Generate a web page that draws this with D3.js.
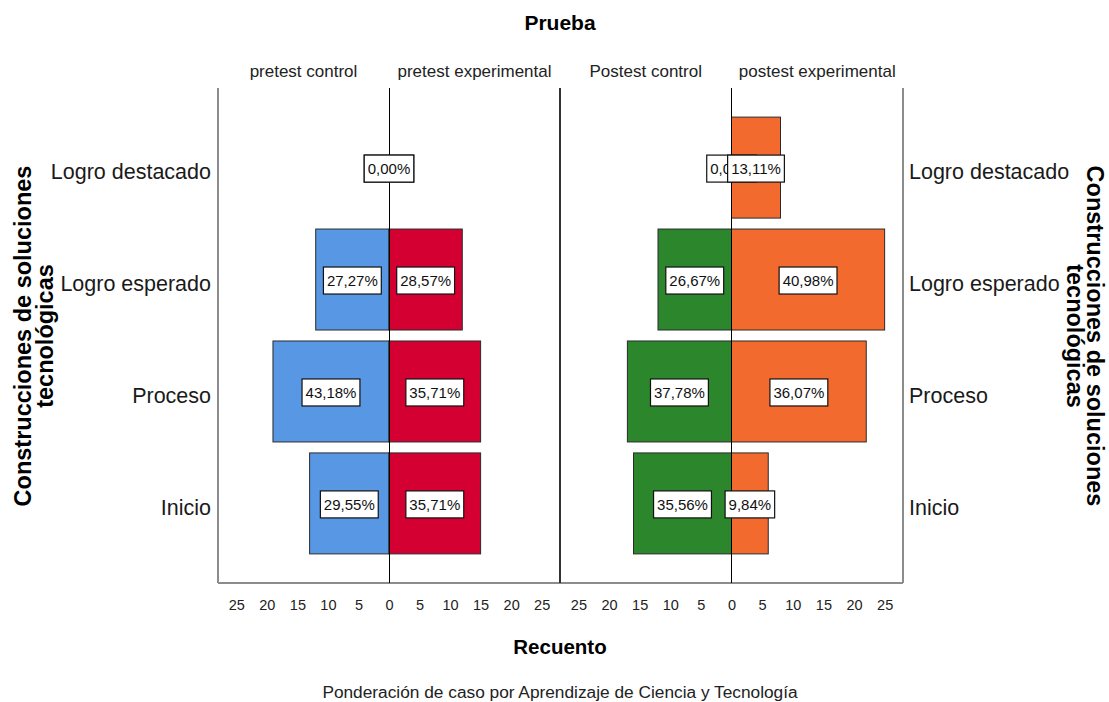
<!DOCTYPE html>
<html>
<head>
<meta charset="utf-8">
<script src="https://cdn.jsdelivr.net/npm/d3@7"></script>
<style>
    body { margin: 0; background: #fff; }
    #chart-area { width: 1109px; height: 702px; }
    text { font-family: "Liberation Sans", Arial, sans-serif; }
</style>
</head>
<body>
<div id="chart-area"></div>
<script>

// levels of the scale (top to bottom)
const categories = ["Logro destacado", "Logro esperado", "Proceso", "Inicio"];

// counts
const pretestControl = [0, 12, 19, 13];
const pretestExperimental = [0, 12, 15, 15];
const postestControl = [0, 12, 17, 16];
const postestExperimental = [8, 25, 22, 6];

// percent labels shown in the boxes
const pretestControlPct = ["0,00%", "27,27%", "43,18%", "29,55%"];
const pretestExperimentalPct = ["0,00%", "28,57%", "35,71%", "35,71%"];
const postestControlPct = ["0,00%", "26,67%", "37,78%", "35,56%"];
const postestExperimentalPct = ["13,11%", "40,98%", "36,07%", "9,84%"];

const groupNames = ["pretest control", "pretest experimental", "Postest control", "postest experimental"];
const tickValues = [-25, -20, -15, -10, -5, 0, 5, 10, 15, 20, 25];


class PyramidVis {

    constructor(parentElement, panels) {
        this.parentElement = parentElement;
        this.panels = panels;
        this.initVis();
    }

    initVis() {
        let vis = this;

        vis.width = 1109;
        vis.height = 702;

        vis.svg = d3.select("#" + vis.parentElement).append("svg")
            .attr("width", vis.width)
            .attr("height", vis.height);

        // plot frame
        vis.top = 88;
        vis.bottom = 583;
        vis.panelEdges = [218, 560, 903];

        vis.y = d3.scaleBand()
            .domain(categories)
            .range([vis.top, vis.bottom])
            .paddingInner(0.098)
            .paddingOuter(0.26);

        // one x scale per panel, same domain
        vis.panels.forEach((p, i) => {
            p.x = d3.scaleLinear()
                .domain([-28, 28])
                .range([vis.panelEdges[i], vis.panelEdges[i + 1]]);
        });

        vis.updateVis();
    }

    updateVis() {
        let vis = this;

        // bars
        vis.panels.forEach(p => {
            p.series.forEach(s => {
                vis.svg.append("g").selectAll("rect")
                    .data(s.values.map((v, i) => ({cat: categories[i], v: v})).filter(d => d.v > 0))
                    .join("rect")
                    .attr("x", d => s.side < 0 ? p.x(-d.v) : p.x(0))
                    .attr("y", d => vis.y(d.cat))
                    .attr("width", d => Math.abs(p.x(d.v) - p.x(0)))
                    .attr("height", vis.y.bandwidth())
                    .style("fill", s.color)
                    .style("stroke", "#2b2b2b")
                    .style("stroke-width", 1);
            });
        });

        // frame lines
        let frame = vis.svg.append("g").attr("shape-rendering", "crispEdges");
        frame.append("line")
            .attr("x1", vis.panelEdges[0]).attr("x2", vis.panelEdges[2])
            .attr("y1", vis.bottom).attr("y2", vis.bottom)
            .style("stroke", "#8c8c8c").style("stroke-width", 1.5);
        vis.panelEdges.forEach((xe, i) => {
            frame.append("line")
                .attr("x1", xe).attr("x2", xe)
                .attr("y1", vis.top).attr("y2", vis.bottom)
                .style("stroke", i === 1 ? "#333" : "#8c8c8c")
                .style("stroke-width", 1.5);
        });
        vis.panels.forEach(p => {
            frame.append("line")
                .attr("x1", p.x(0)).attr("x2", p.x(0))
                .attr("y1", vis.top).attr("y2", vis.bottom)
                .style("stroke", "#000").style("stroke-width", 1);
        });

        // x axes, labels as absolute counts, no tick marks
        vis.panels.forEach(p => {
            let ax = vis.svg.append("g")
                .attr("transform", "translate(0," + vis.bottom + ")")
                .call(d3.axisBottom(p.x).tickValues(tickValues)
                    .tickFormat(d => Math.abs(d)).tickSize(0).tickPadding(17));
            ax.select(".domain").remove();
            ax.selectAll("text")
                .style("font-family", "'Liberation Sans', Arial, sans-serif")
                .style("font-size", "14.5px")
                .style("fill", "#222");
        });

        // group headers
        vis.panels.forEach(p => {
            p.series.forEach(s => {
                vis.svg.append("text")
                    .attr("x", p.x(14 * s.side))
                    .attr("y", 77)
                    .attr("text-anchor", "middle")
                    .style("font-size", "17px")
                    .style("fill", "#222")
                    .text(s.name);
            });
        });

        // value boxes (zero values sit on the zero line, like the original)
        vis.panels.forEach(p => {
            p.series.forEach(s => {
                s.values.forEach((v, i) => {
                    let g = vis.svg.append("g")
                        .attr("transform", "translate(" + p.x(s.side * v / 2) + "," +
                            (vis.y(categories[i]) + vis.y.bandwidth() / 2 + 1) + ")");
                    let rect = g.append("rect");
                    let t = g.append("text")
                        .attr("text-anchor", "middle")
                        .attr("dy", "0.36em")
                        .style("font-size", "15px")
                        .style("fill", "#111")
                        .text(s.labels[i]);
                    let w = t.node().getComputedTextLength() + 7;
                    rect.attr("x", -w / 2).attr("y", -13.5)
                        .attr("width", w).attr("height", 27)
                        .style("fill", "#fff")
                        .style("stroke", "#111")
                        .style("stroke-width", 1.2);
                });
            });
        });

        // category labels both sides
        let catLeft = vis.svg.append("g").selectAll("text")
            .data(categories).join("text")
            .attr("x", vis.panelEdges[0] - 7)
            .attr("text-anchor", "end");
        let catRight = vis.svg.append("g").selectAll("text")
            .data(categories).join("text")
            .attr("x", vis.panelEdges[2] + 6)
            .attr("text-anchor", "start");
        [catLeft, catRight].forEach(sel => {
            sel.attr("y", d => vis.y(d) + vis.y.bandwidth() / 2 + 3)
                .attr("dy", "0.38em")
                .style("font-size", "21.5px")
                .style("fill", "#1a1a1a")
                .text(d => d);
        });

        // titles
        vis.svg.append("text")
            .attr("x", 560).attr("y", 30)
            .attr("text-anchor", "middle")
            .style("font-size", "21px").style("font-weight", "bold")
            .text("Prueba");

        vis.svg.append("text")
            .attr("x", 560).attr("y", 654)
            .attr("text-anchor", "middle")
            .style("font-size", "20.5px").style("font-weight", "bold")
            .text("Recuento");

        vis.svg.append("text")
            .attr("x", 560).attr("y", 698)
            .attr("text-anchor", "middle")
            .style("font-size", "17.3px").style("fill", "#222")
            .text("Ponderación de caso por Aprendizaje de Ciencia y Tecnología");

        // y titles, two lines, rotated
        let yTitle = ["Construcciones de soluciones", "tecnológicas"];
        let left = vis.svg.append("g").attr("transform", "translate(31,336) rotate(-90)");
        let right = vis.svg.append("g").attr("transform", "translate(1087,336) rotate(90)");
        yTitle.forEach((line, i) => {
            left.append("text")
                .attr("x", 0).attr("y", i * 22)
                .attr("text-anchor", "middle")
                .style("font-size", "23.5px").style("font-weight", "bold")
                .text(line);
            // rotate(90): local +y points left on screen
            right.append("text")
                .attr("x", 0).attr("y", i * 20)
                .attr("text-anchor", "middle")
                .style("font-size", "23.5px").style("font-weight", "bold")
                .text(line);
        });
    }
}

let panels = [
    {
        series: [
            {name: groupNames[0], side: -1, values: pretestControl, labels: pretestControlPct, color: "#5897e3"},
            {name: groupNames[1], side: 1, values: pretestExperimental, labels: pretestExperimentalPct, color: "#d50032"}
        ]
    },
    {
        series: [
            {name: groupNames[2], side: -1, values: postestControl, labels: postestControlPct, color: "#2c862c"},
            {name: groupNames[3], side: 1, values: postestExperimental, labels: postestExperimentalPct, color: "#f36a2e"}
        ]
    }
];

let chart = new PyramidVis("chart-area", panels);

</script>
</body>
</html>
